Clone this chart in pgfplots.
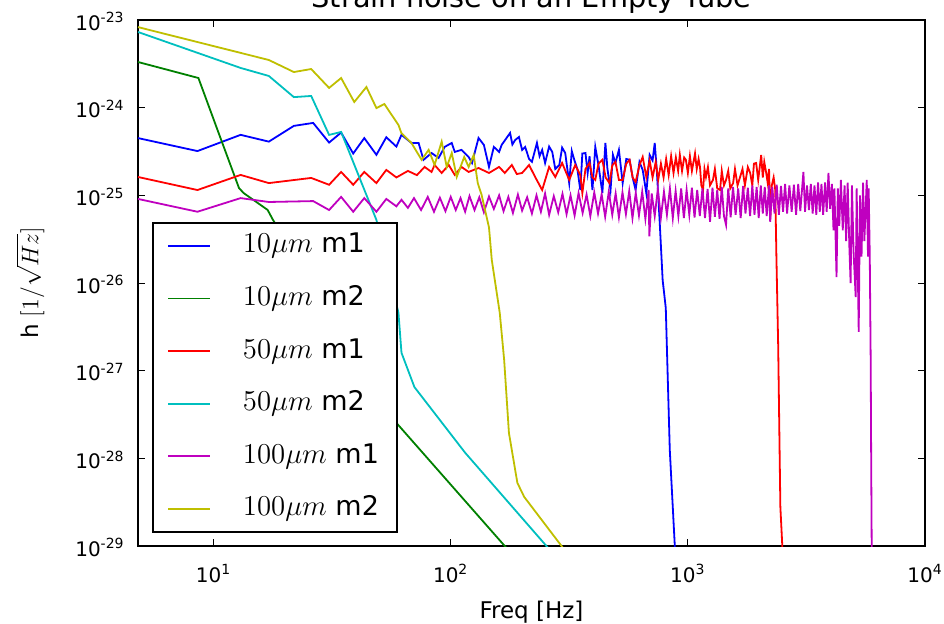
\documentclass[border=0pt]{standalone}
\usepackage{fontspec}
\setmainfont{DejaVu Sans}
\usepackage{pgfplots}
\pgfplotsset{compat=1.18}

% matplotlib classic colours
\definecolor{mb}{rgb}{0,0,1}
\definecolor{mg}{rgb}{0,0.5,0}
\definecolor{mr}{rgb}{1,0,0}
\definecolor{mc}{rgb}{0,0.75,0.75}
\definecolor{mm}{rgb}{0.75,0,0.75}
\definecolor{my}{rgb}{0.75,0.75,0}

\begin{document}
\begin{tikzpicture}
\begin{axis}[
    name=ax,
    at={(0,0)}, anchor=south west,
    scale only axis,
    width=393.5pt, height=263pt,
    xmode=log, ymode=log,
    log basis x=10, log basis y=10,
    xmin=4.8, xmax=10000,
    ymin=1e-29, ymax=1e-23,
    xtickten={1,2,3,4},
    ytickten={-29,-28,-27,-26,-25,-24,-23},
    xticklabel={10\textsuperscript{\pgfmathprintnumber[assume math mode=true]{\tick}}},
    yticklabel={10\textsuperscript{\pgfmathprintnumber[assume math mode=true]{\tick}}},
    xticklabel style={font=\fontsize{10}{12}\selectfont, anchor=base, inner sep=0pt, yshift=-18pt},
    yticklabel style={font=\fontsize{10}{12}\selectfont, anchor=base east, inner sep=0pt, xshift=-6.5pt, yshift=-5pt},
    major tick length=3.5pt,
    minor tick length=1.8pt,
    tick style={black, line width=0.5pt},
    axis line style={line width=1pt},
    title={Strain noise on an Empty Tube},
    title style={at={(axis description cs:0.5,1)}, anchor=base, yshift=0.5pt, font=\fontsize{14.4}{16}\selectfont},
    xlabel={Freq [Hz]},
    xlabel style={at={(axis description cs:0.5,-0.137)}, anchor=base, font=\fontsize{11.5}{13}\selectfont},
    ylabel={h $[1/\sqrt{Hz}]$},
    ylabel style={at={(axis description cs:-0.137,0.5)}, anchor=center, font=\fontsize{11.5}{13}\selectfont},
    legend cell align=left,
    legend style={at={(0.018,0.025)}, anchor=south west, draw=black, line width=1pt, fill=white,
      font=\fontsize{13.5}{16}\selectfont, inner xsep=7pt, inner ysep=3pt, row sep=9.3pt,
      nodes={text height=10pt, text depth=3pt}},
    legend image code/.code={\draw[#1, line width=0.9pt] (0pt,0pt) -- (21pt,0pt); \path (35pt,0pt);},
    every axis plot/.append style={line width=0.9pt},
]

% 10um m1
\addplot[mb] table {
4.8 4.5e-25
8.55 3.2e-25
13.0 4.9e-25
17.1 4.1e-25
21.8 6.2e-25
26.3 6.7e-25
30.7 4.0e-25
34.5 5.2e-25
38.8 3.0e-25
43.2 4.5e-25
48.6 2.9e-25
53.5 4.6e-25
59.0 3.6e-25
62.0 4.9e-25
68.3 3.96e-25
73.2 3.96e-25
76.8 2.54e-25
83.0 3.04e-25
88.9 2.67e-25
94.3 3.57e-25
101 3.96e-25
104 3.13e-25
111 3.30e-25
119 2.74e-25
123 2.34e-25
131 4.51e-25
138 3.76e-25
145 2.11e-25
152 3.57e-25
160 3.13e-25
164 3.76e-25
178 5.15e-25
182 3.8e-25
187 4.28e-25
194 4.63e-25
200 3.3e-25
206 3.57e-25
214 2.6e-25
220 2.41e-25
231 3.96e-25
237 2.8e-25
243 3.30e-25
250 2.34e-25
260 3.6e-25
268 3.13e-25
276 2.0e-25
287 2.22e-25
295 3.5e-25
304 3.04e-25
316 1.38e-25
324 3.2e-25
332 2.54e-25
342 2.0e-25
352 1.15e-25
359 3.0e-25
370 3.04e-25
378 1.8e-25
385 2.8e-25
396 1.15e-25
407 3.57e-25
420 2.2e-25
436 1.06e-25
449 3.96e-25
458 2.0e-25
472 1.15e-25
483 2.9e-25
495 2.34e-25
512 3.3e-25
531 1.38e-25
550 2.6e-25
568 2.54e-25
585 1.6e-25
602 1.15e-25
625 2.4e-25
645 1.95e-25
668 1.06e-25
690 2.9e-25
710 2.5e-25
725 3.96e-25
740 1.9e-25
760 5.25e-26
783 1.08e-26
807 5.2e-27
839 1.25e-28
881 1.0e-29
908 1.2e-30
};
\addlegendentry{$10\mu m$ m1}

% 10um m2
\addplot[mg] table {
4.8 3.32e-24
8.63 2.18e-24
10.5 5.15e-25
12.8 1.21e-25
13.4 1.06e-25
16.9 6.82e-26
17.8 5.25e-26
30.7 5.0e-27
43.2 9.0e-28
59.0 2.54e-28
169 1.0e-29
436 5.4e-31
};
\addlegendentry{$10\mu m$ m2}

% 50um m1
\addplot[mr] table {
4.8 1.62e-25
8.55 1.15e-25
13.0 1.71e-25
17.1 1.38e-25
25.8 1.58e-25
30.7 1.32e-25
34.5 1.85e-25
38.8 1.32e-25
43.2 1.85e-25
48.6 1.38e-25
53.5 1.95e-25
59.0 1.6e-25
66 1.9e-25
72 1.7e-25
77.6 2.11e-25
83.0 1.85e-25
85.5 2.22e-25
91.6 1.80e-25
98.1 2.22e-25
104 1.71e-25
111 2.11e-25
119 1.85e-25
131 2.05e-25
145 1.80e-25
160 2.11e-25
169 1.80e-25
181 2.22e-25
190 1.75e-25
200 1.80e-25
207 2.0e-25
214 2.22e-25
227 1.62e-25
243 1.15e-25
260 2.11e-25
276 1.62e-25
295 2.34e-25
316 1.50e-25
335 2.22e-25
352 1.7e-25
359 1.06e-25
370 2.0e-25
385 2.34e-25
396 1.6e-25
407 1.50e-25
420 2.3e-25
436 2.54e-25
450 1.6e-25
467 1.38e-25
480 2.2e-25
495 2.41e-25
512 1.5e-25
531 1.50e-25
550 2.3e-25
568 2.54e-25
585 1.6e-25
602 1.42e-25
625 2.2e-25
645 2.74e-25
668 1.62e-25
690 2.5e-25
710 1.6e-25
732 2.4e-25
750 1.5e-25
770 2.3e-25
790 1.6e-25
810 2.6e-25
830 1.7e-25
850 2.8e-25
870 1.8e-25
890 2.7e-25
910 1.9e-25
925 2.9e-25
945 1.9e-25
965 2.7e-25
981 2.54e-25
1000 1.8e-25
1020 2.8e-25
1040 1.9e-25
1072 3.0e-25
1090 2.0e-25
1110 2.6e-25
1125 2.11e-25
1140 1.3e-25
1159 1.15e-25
1175 2.0e-25
1192 1.62e-25
1215 2.1e-25
1240 1.3e-25
1276 1.50e-25
1300 2.0e-25
1330 1.2e-25
1367 1.15e-25
1390 1.9e-25
1420 1.3e-25
1449 1.50e-25
1480 1.9e-25
1510 1.2e-25
1552 1.38e-25
1580 2.0e-25
1620 1.3e-25
1661 1.62e-25
1700 2.0e-25
1740 1.3e-25
1790 2.1e-25
1832 1.80e-25
1870 1.3e-25
1900 2.3e-25
1941 2.34e-25
1980 1.5e-25
2038 2.89e-25
2070 1.6e-25
2100 2.4e-25
2140 1.80e-25
2170 1.4e-25
2200 2.0e-25
2224 5.25e-26
2260 1.3e-25
2300 1.6e-25
2337 1.15e-25
2361 2.2e-26
2404 1.9e-27
2455 2.8e-29
2502 1.0e-29
2530 1.0e-30
};
\addlegendentry{$50\mu m$ m1}

% 50um m2
\addplot[mc] table {
4.8 7.3e-24
13.0 2.84e-24
17.1 2.30e-24
21.8 1.32e-24
25.8 1.36e-24
30.7 4.89e-25
34.5 5.29e-25
48.6 5.25e-26
60.2 4.56e-27
62.0 1.6e-27
70.3 6.5e-28
115 1.16e-28
255 9.8e-30
436 1.74e-30
};
\addlegendentry{$50\mu m$ m2}

% 100um m1
\addplot[mm] table {
4.8 9.1e-26
8.55 6.5e-26
13.0 9.3e-26
17.1 8.4e-26
26.3 8.6e-26
30.7 6.8e-26
34.5 9.6e-26
38.8 6.5e-26
43.2 9.3e-26
48.6 6.5e-26
53.5 9.1e-26
59.0 7.5e-26
62 8.9e-26
66 7.2e-26
70 9.3e-26
75 6.8e-26
80 9.6e-26
85 6.5e-26
90 9.4e-26
95 6.6e-26
100 9.6e-26
105 6.8e-26
110 9.3e-26
115 6.5e-26
120 9.8e-26
126 6.8e-26
132 9.5e-26
138 6.4e-26
145 9.7e-26
152 7.0e-26
160 1.0e-25
167 6.6e-26
175 9.6e-26
183 6.3e-26
192 1.02e-25
200 6.7e-26
210 9.5e-26
220 6.2e-26
230 1.0e-25
240 6.5e-26
250 1.05e-25
260 6.0e-26
272 9.8e-26
284 6.4e-26
296 1.04e-25
308 6.1e-26
320 1.0e-25
333 5.9e-26
346 1.06e-25
360 6.3e-26
374 1.02e-25
388 5.8e-26
403 1.08e-25
418 6.2e-26
433 1.03e-25
448 5.7e-26
464 1.1e-25
480 6.0e-26
496 1.05e-25
512 5.6e-26
530 1.08e-25
548 6.1e-26
566 1.12e-25
584 5.5e-26
603 1.06e-25
622 5.9e-26
642 1.1e-25
662 5.4e-26
683 1.15e-25
688 3.4e-26
704 1.05e-25
725 5.8e-26
747 1.18e-25
770 5.6e-26
793 1.1e-25
816 6.0e-26
840 1.2e-25
864 5.5e-26
888 1.12e-25
912 5.8e-26
937 1.2e-25
962 5.5e-26
988 1.15e-25
1014 6.0e-26
1040 1.22e-25
1067 5.6e-26
1095 1.15e-25
1123 5.8e-26
1152 1.2e-25
1181 5.5e-26
1211 1.18e-25
1240 5.0e-26
1270 1.22e-25
1300 5.7e-26
1330 1.15e-25
1360 5.4e-26
1390 1.25e-25
1420 5.8e-26
1449 4.6e-26
1480 1.2e-25
1515 5.6e-26
1550 1.25e-25
1590 6.0e-26
1630 1.2e-25
1670 5.5e-26
1710 1.28e-25
1750 6.2e-26
1790 1.22e-25
1830 5.8e-26
1870 1.3e-25
1910 6.0e-26
1950 1.25e-25
1990 5.5e-26
2030 1.3e-25
2070 6.2e-26
2110 1.25e-25
2150 5.8e-26
2200 1.3e-25
2224 4.98e-26
2270 1.25e-25
2320 6.2e-26
2370 1.32e-25
2420 6.0e-26
2470 1.28e-25
2520 6.5e-26
2570 1.35e-25
2620 6.2e-26
2680 1.3e-25
2740 6.5e-26
2800 1.32e-25
2860 6.0e-26
2920 1.35e-25
2980 6.6e-26
3071 1.85e-25
3120 6.5e-26
3180 1.3e-25
3240 6.8e-26
3300 1.35e-25
3360 6.2e-26
3420 1.3e-25
3480 6.0e-26
3540 1.4e-25
3600 6.5e-26
3660 1.35e-25
3720 6.0e-26
3790 1.4e-25
3850 6.5e-26
3917 1.8e-25
3980 7.0e-26
4050 1.35e-25
4113 4.0e-26
4150 1.2e-25
4236 1.17e-26
4290 1.2e-25
4350 4.5e-26
4420 1.5e-25
4500 4.0e-26
4580 1.3e-25
4650 3.0e-26
4720 1.4e-25
4800 2.5e-26
4856 1.0e-26
4920 1.3e-25
5000 2.2e-26
5102 6.9e-27
5150 1.2e-25
5254 2.77e-27
5320 1.0e-25
5400 2.0e-26
5480 1.4e-25
5550 3.0e-26
5681 1.5e-25
5750 2.0e-26
5788 1.2e-25
5850 2.0e-26
5902 1.33e-27
5930 1.0e-28
5960 1.0e-29
5990 1.0e-30
};
\addlegendentry{$100\mu m$ m1}

% 100um m2
\addplot[my] table {
4.8 8.3e-24
17.1 3.5e-24
21.8 2.55e-24
25.8 2.76e-24
30.7 1.68e-24
34.5 2.18e-24
39.2 1.16e-24
44.1 1.72e-24
48.6 9.9e-25
52.5 1.10e-24
60.2 6.35e-25
61.9 5.15e-25
68.3 3.96e-25
75.4 2.54e-25
80.7 3.30e-25
85.5 2.22e-25
91.6 4.1e-25
96.2 2.11e-25
101 3.04e-25
106 1.62e-25
114 2.74e-25
119 2.11e-25
125 2.89e-25
130 1.38e-25
135 1.01e-25
145 4.3e-26
149 1.83e-26
161 4.56e-27
168 1.33e-27
176 1.95e-28
191 5.26e-29
204 3.64e-29
295 9.8e-30
436 2.5e-30
};
\addlegendentry{$100\mu m$ m2}

\end{axis}
\pgfresetboundingbox
\path[use as bounding box] (-69pt,-39pt) rectangle (403pt,273pt);
\end{tikzpicture}
\end{document}
